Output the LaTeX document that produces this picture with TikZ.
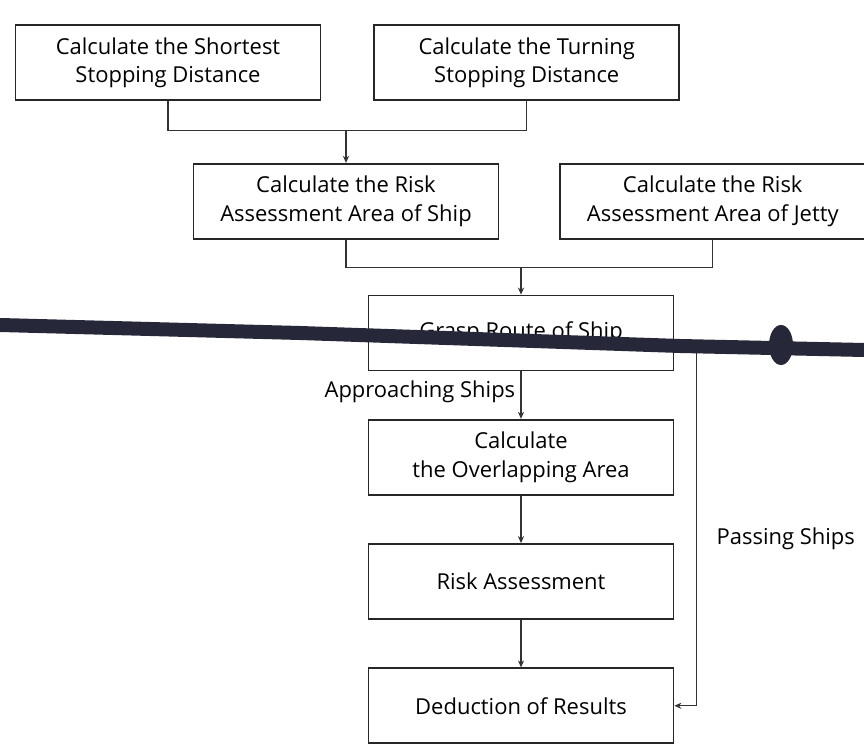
\documentclass[tikz,border=0pt]{standalone}
\usepackage{fontspec}
\setmainfont{Open Sans}
\usetikzlibrary{arrows.meta}
\usetikzlibrary{positioning}
\usetikzlibrary{calc}
\definecolor{scanbar}{RGB}{38,40,58}

\begin{document}
\begin{tikzpicture}[
      box/.style={rectangle, draw=black!85, line width=1pt, fill=white, align=center, minimum width=6.1cm, minimum height=1.5cm, font=\fontsize{12.5}{16}\selectfont},
      line/.style={draw=black!80, line width=0.6pt},
      arrow/.style={->, line, >={Stealth[length=4pt,width=3.5pt]}},
      tag/.style={font=\fontsize{12.5}{16}\selectfont, inner sep=1pt}
      ]
      \useasboundingbox (0,0) rectangle (17.28,-15.02);

      % Nodes
      \node[box] (route) at (10.42,-6.66) {Grasp Route of Ship};
      \node[box, below=0.95cm of route] (overlap) {Calculate\\the Overlapping Area};
      \node[box, below=0.95cm of overlap] (assess) {Risk Assessment};
      \node[box, below=0.95cm of assess] (result) {Deduction of Results};

      \node[box, above=1.1cm of route, xshift=-3.5cm] (riskship) {Calculate the Risk\\Assessment Area of Ship};
      \node[box, right=1.2cm of riskship] (riskjetty) {Calculate the Risk\\Assessment Area of Jetty};

      \node[box, above=1.24cm of riskship, xshift=-3.56cm] (shortest) {Calculate the Shortest\\Stopping Distance};
      \node[box, right=1.04cm of shortest] (turning) {Calculate the Turning\\Stopping Distance};

      \coordinate (join1) at ($(riskship.north)+(0,0.65)$);
      \coordinate (join2) at ($(route.north)+(0,0.55)$);

      % Arrows
      \draw[line] (shortest.south) |- (join1) -| (turning.south);
      \draw[arrow] (join1) -- (riskship.north);
      \draw[line] (riskship.south) |- (join2) -| (riskjetty.south);
      \draw[arrow] (join2) -- (route.north);
      \draw[arrow] (route) -- node[tag, left=2pt, pos=0.42] (approach) {Approaching Ships} (overlap);
      \draw[arrow] (overlap) -- (assess);
      \draw[arrow] (assess) -- (result);
      \draw[arrow] ([yshift=-0.2cm]route.east) -- ++(0.45,0) |- node[tag, right=0.35cm, pos=0.27] (passing) {Passing Ships} (result.east);

      % scanned streak across the page
      \draw[scanbar, line width=0.28cm] (0,-6.5) -- (6,-6.66) -- (13.6,-6.92) -- (17.28,-7.0);
      \fill[scanbar] (15.62,-6.9) ellipse (0.24 and 0.4);

    \end{tikzpicture}
\end{document}
